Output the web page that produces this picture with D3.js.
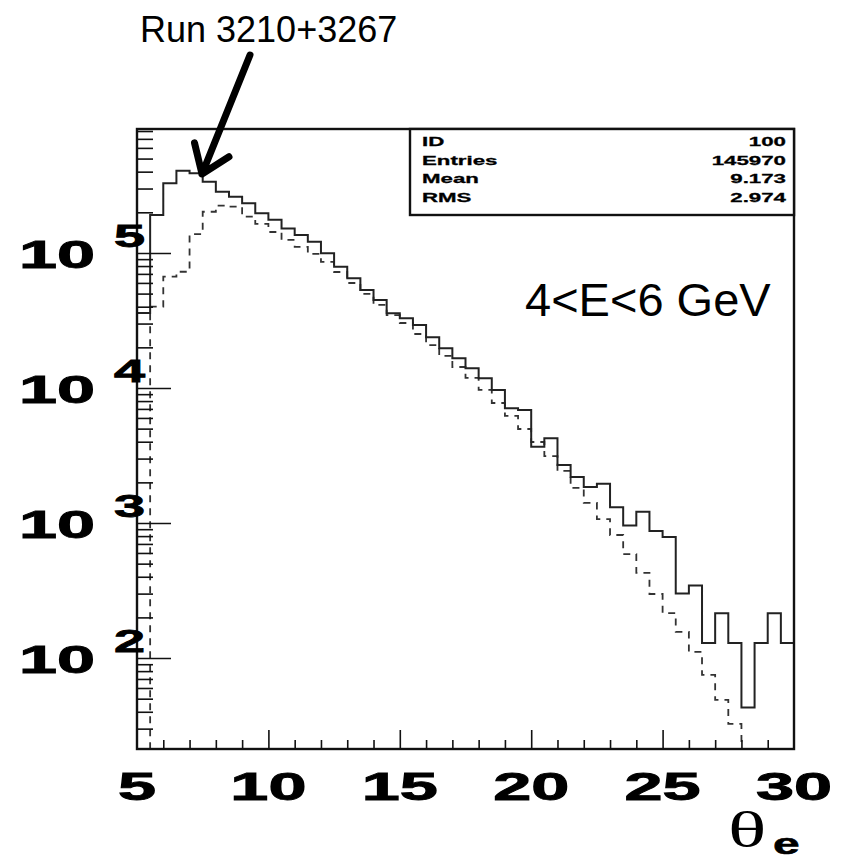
<!DOCTYPE html>
<html>
<head>
<meta charset="utf-8">
<script src="https://cdn.jsdelivr.net/npm/d3@7"></script>
<style>
  body { margin: 0; background: #fff; }
  svg { display: block; }
</style>
</head>
<body>
<svg id="chart" width="846" height="861"></svg>
<script>
// Lower edges of the theta_e bins (degrees), bin width 0.5
const thetaBins = [5.0, 5.5, 6.0, 6.5, 7.0, 7.5, 8.0, 8.5, 9.0, 9.5,
                   10.0, 10.5, 11.0, 11.5, 12.0, 12.5, 13.0, 13.5, 14.0, 14.5,
                   15.0, 15.5, 16.0, 16.5, 17.0, 17.5, 18.0, 18.5, 19.0, 19.5,
                   20.0, 20.5, 21.0, 21.5, 22.0, 22.5, 23.0, 23.5, 24.0, 24.5,
                   25.0, 25.5, 26.0, 26.5, 27.0, 27.5, 28.0, 28.5, 29.0, 29.5];
const binWidth = 0.5;

// Measured counts, runs 3210+3267 (solid)
const runCounts = [35900, 191000, 328000, 407000, 389000, 337000, 284000, 261000, 233000, 197000,
                   176000, 152000, 136000, 121000, 99500, 79200, 65000, 53200, 44900, 35700,
                   32800, 29300, 23800, 19700, 16600, 14000, 11800, 9670, 7080, 6880,
                   3670, 4240, 2690, 2190, 1850, 1950, 1310, 958, 1210, 873,
                   787, 301, 344, 129, 215, 129, 43, 129, 215, 129];

// Comparison distribution (dashed)
const refCounts = [0, 40000, 66700, 72600, 138000, 202000, 224000, 220000, 186000, 164000,
                   143000, 125000, 111000, 98300, 85800, 72300, 59900, 49700, 41200, 34700,
                   30300, 25100, 20800, 17300, 14300, 11900, 9670, 7740, 6210, 4970,
                   3980, 3130, 2430, 1820, 1410, 1070, 815, 589, 427, 298,
                   215, 156, 111, 75, 49, 32.5, 0, 0, 0, 0];

const xTickValues = [5, 10, 15, 20, 25, 30];
const yDecades = [2, 3, 4, 5];
const statsNames = ["ID", "Entries", "Mean", "RMS"];
const statsValues = ["100", "145970", "9.173", "2.974"];
const runLabel = "Run 3210+3267";
const energyLabel = "4<E<6 GeV";

const svg = d3.select("#chart");
const frame = { left: 137, right: 794, top: 129, bottom: 749 };
const STRETCH = 1.8; // horizontal stretch of the pad lettering

const x = d3.scaleLinear().domain([5, 30]).range([frame.left, frame.right]);
const y = d3.scaleLog().domain([21.2, 8.28e5]).range([frame.bottom, frame.top]).clamp(true);
const yv = v => (v > 0 ? y(v) : frame.bottom);

svg.append("defs").append("clipPath").attr("id", "pad")
  .append("rect")
  .attr("x", frame.left).attr("y", frame.top)
  .attr("width", frame.right - frame.left).attr("height", frame.bottom - frame.top);

// histogram outline as a step path
function stepPoints(counts) {
  const pts = [[x(thetaBins[0]), frame.bottom]];
  counts.forEach((c, i) => {
    pts.push([x(thetaBins[i]), yv(c)]);
    pts.push([x(thetaBins[i] + binWidth), yv(c)]);
  });
  pts.push([x(thetaBins[thetaBins.length - 1] + binWidth), frame.bottom]);
  return pts;
}
const line = d3.line();

const plot = svg.append("g").attr("clip-path", "url(#pad)");
plot.append("path")
  .attr("d", line(stepPoints(refCounts)))
  .attr("fill", "none").attr("stroke", "#333").attr("stroke-width", 1.8)
  .attr("stroke-dasharray", "7,6");
plot.append("path")
  .attr("d", line(stepPoints(runCounts)))
  .attr("fill", "none").attr("stroke", "#222").attr("stroke-width", 2);

// y axis ticks (inside the pad)
const yMinor = [];
for (let d = 1; d <= 5; d++) {
  for (let k = 2; k <= 9; k++) {
    const v = k * Math.pow(10, d);
    if (v >= y.domain()[0] && v <= y.domain()[1]) yMinor.push(v);
  }
}
const yMajor = yDecades.map(d => Math.pow(10, d));
function cleanAxis(g) { g.select(".domain").remove(); g.selectAll("text").remove();
  g.selectAll("line").attr("stroke", "#111").attr("stroke-width", 1.6); }
svg.append("g").attr("transform", `translate(${frame.left},0)`)
  .call(d3.axisRight(y).tickValues(yMinor).tickSize(16).tickFormat(""))
  .call(cleanAxis);
svg.append("g").attr("transform", `translate(${frame.left},0)`)
  .call(d3.axisRight(y).tickValues(yMajor).tickSize(34).tickFormat(""))
  .call(cleanAxis);

// x axis ticks (pointing up into the pad)
const xMinor = d3.range(6, 30, 1).filter(v => v % 5 !== 0);
svg.append("g").attr("transform", `translate(0,${frame.bottom})`)
  .call(d3.axisTop(x).tickValues(xMinor).tickSize(9).tickFormat(""))
  .call(cleanAxis);
svg.append("g").attr("transform", `translate(0,${frame.bottom})`)
  .call(d3.axisTop(x).tickValues([10, 15, 20, 25]).tickSize(19).tickFormat(""))
  .call(cleanAxis);

// pad frame
svg.append("rect")
  .attr("x", frame.left).attr("y", frame.top)
  .attr("width", frame.right - frame.left).attr("height", frame.bottom - frame.top)
  .attr("fill", "none").attr("stroke", "#111").attr("stroke-width", 2.4);

function stretchedText(px, py, txt, opts) {
  const t = svg.append("text")
    .attr("transform", `translate(${px},${py}) scale(${opts.sx || STRETCH},1)`)
    .attr("text-anchor", opts.anchor || "start")
    .attr("font-family", opts.family || "'Liberation Sans', Arial, Helvetica, sans-serif")
    .attr("font-weight", opts.weight || "bold")
    .attr("font-size", opts.size)
    .attr("fill", "#000")
    .text(txt);
  if (opts.heavy) t.attr("stroke", "#000").attr("stroke-width", opts.heavy);
  return t;
}

// x tick labels
xTickValues.forEach(v => stretchedText(x(v), 800, String(v), { anchor: "middle", size: 38, heavy: 0.9 }));

// y decade labels: 10 with exponent
yDecades.forEach(d => {
  const ty = y(Math.pow(10, d));
  stretchedText(95, ty + 15, "10", { anchor: "end", size: 38, heavy: 0.9 });
  stretchedText(114, ty - 6, String(d), { anchor: "start", size: 31, heavy: 0.8 });
});

// axis title theta_e
stretchedText(728, 847, "θ", { size: 50, weight: "normal", family: "'Liberation Serif', 'Times New Roman', serif", sx: 1.6 });
stretchedText(773, 854, "e", { size: 30, sx: 1.6, heavy: 0.6 });

// statistics box
const box = { x0: 410, x1: frame.right, y0: frame.top, y1: 215 };
svg.append("rect")
  .attr("x", box.x0).attr("y", box.y0)
  .attr("width", box.x1 - box.x0).attr("height", box.y1 - box.y0)
  .attr("fill", "#fff").attr("stroke", "#111").attr("stroke-width", 2.4);
statsNames.forEach((n, i) => {
  const by = box.y0 + 17 + i * 18.5;
  stretchedText(422, by, n, { size: 13.5, sx: 1.65, heavy: 0.3 });
  stretchedText(786, by, statsValues[i], { size: 13.5, sx: 1.65, anchor: "end", heavy: 0.3 });
});

// energy range annotation
svg.append("text")
  .attr("x", 525).attr("y", 316)
  .attr("font-family", "'Liberation Sans', Arial, Helvetica, sans-serif")
  .attr("font-size", 47).attr("fill", "#000")
  .text(energyLabel);

// run label with arrow pointing at the peak
svg.append("text")
  .attr("x", 140).attr("y", 42)
  .attr("font-family", "'Liberation Sans', Arial, Helvetica, sans-serif")
  .attr("font-size", 36).attr("fill", "#000")
  .text(runLabel);

const tip = [202, 174];
const tail = [250, 55];
const ang = Math.atan2(tail[1] - tip[1], tail[0] - tip[0]);
const wingLen = 32, spread = 0.62;
const wing = s => [tip[0] + wingLen * Math.cos(ang + s * spread), tip[1] + wingLen * Math.sin(ang + s * spread)];
svg.append("path")
  .attr("d", line([tail, tip]) + "M" + wing(-1) + "L" + tip + "L" + wing(1))
  .attr("fill", "none").attr("stroke", "#000").attr("stroke-width", 7)
  .attr("stroke-linecap", "round").attr("stroke-linejoin", "round");
</script>
</body>
</html>
